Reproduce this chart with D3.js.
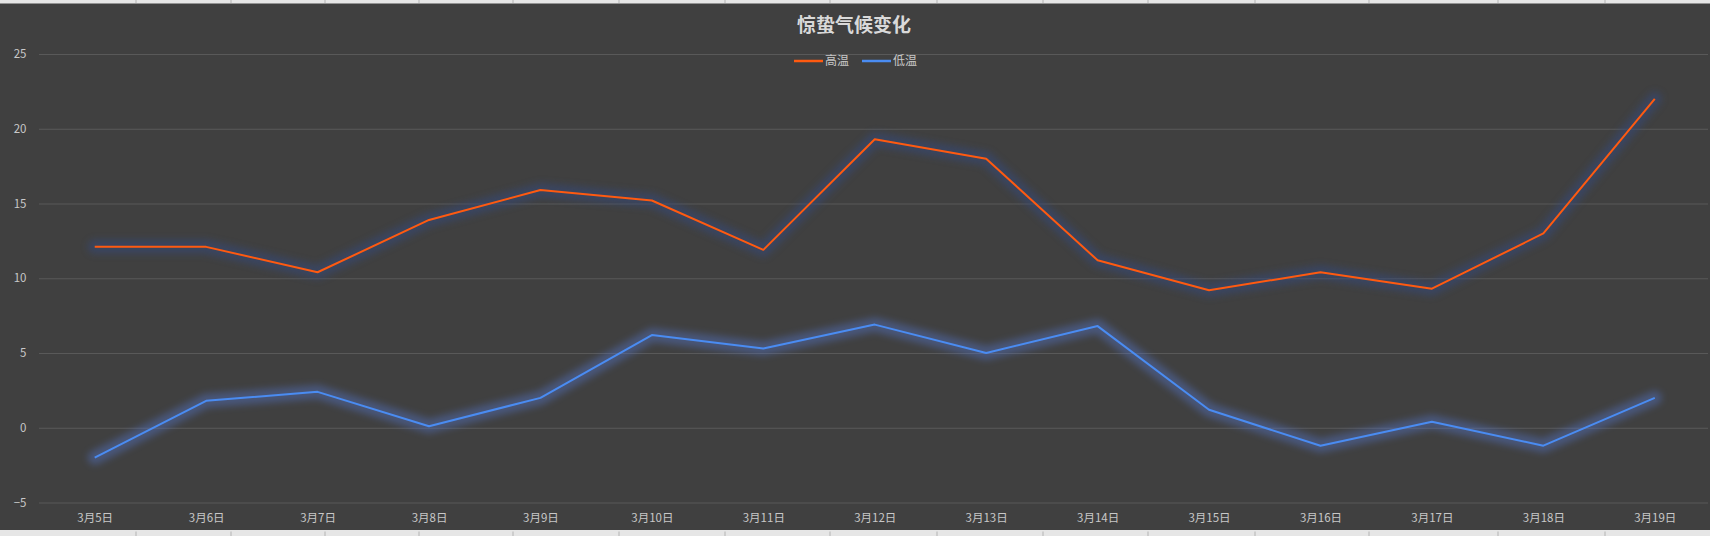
<!DOCTYPE html>
<html>
<head>
  <meta charset="utf-8">
  <script src="https://d3js.org/d3.v7.min.js"></script>
  <style>
    body { margin: 0; background: #404040; }
    text { font-family: "Noto Sans CJK SC", "Noto Sans", sans-serif; }
    .axis text { fill: #c8c8c8; font-size: 11.5px; }
    .axis .domain { display: none; }
    .y-axis line { stroke: #595959; }
    .x-axis line { display: none; }
    .line { fill: none; stroke-width: 2; stroke-linejoin: round; }
    .line.high { stroke: #ff5a10; }
    .line.low { stroke: #4a8cf2; }
    .glow { fill: none; stroke-width: 14; stroke-linejoin: round; stroke-linecap: round; }
    .glow.high { stroke: #34497a; opacity: 0.55; }
    .glow.low { stroke: #5272c2; opacity: 0.45; }
  </style>
</head>
<body>
  <svg id="chart" width="1710" height="536"></svg>
  <script>
    var title = '惊蛰气候变化';
    var days = ['3月5日', '3月6日', '3月7日', '3月8日', '3月9日', '3月10日', '3月11日', '3月12日',
      '3月13日', '3月14日', '3月15日', '3月16日', '3月17日', '3月18日', '3月19日'];
    var high = [12.1, 12.1, 10.4, 13.9, 15.9, 15.2, 11.9, 19.3, 18.0, 11.2, 9.2, 10.4, 9.3, 13.0, 22.0];
    var low = [-2.0, 1.8, 2.4, 0.1, 2.0, 6.2, 5.3, 6.9, 5.0, 6.8, 1.2, -1.2, 0.4, -1.2, 2.0];
    var yTicks = [-5, 0, 5, 10, 15, 20, 25];
    var seriesNames = ['高温', '低温'];

    // excel sheet column borders peeking out above and below the chart
    var sheetCols = [136, 231, 325, 419, 513, 619, 725, 830, 937, 1043, 1148, 1255, 1369, 1498, 1605];

    var chart = d3.select('#chart');
    var W = 1710, H = 536;
    var margin = { top: 54, right: 2, bottom: 33.5, left: 39 };

    chart.append('rect').attr('width', W).attr('height', H).attr('fill', '#404040');
    chart.append('rect').attr('width', W).attr('height', 3.5).attr('fill', '#e6e6e6');
    chart.append('rect').attr('y', 530).attr('width', W).attr('height', 6).attr('fill', '#e6e6e6');
    chart.selectAll('.sheet-top').data(sheetCols).join('line')
      .attr('x1', (d) => d).attr('x2', (d) => d).attr('y1', 0).attr('y2', 3)
      .attr('stroke', '#b4b4b4');
    chart.selectAll('.sheet-bottom').data(sheetCols).join('line')
      .attr('x1', (d) => d).attr('x2', (d) => d).attr('y1', 531.5).attr('y2', 536)
      .attr('stroke', '#b4b4b4');

    var defs = chart.append('defs');
    defs.append('filter').attr('id', 'blur')
      .attr('x', '-10%').attr('y', '-20%').attr('width', '120%').attr('height', '140%')
      .append('feGaussianBlur').attr('stdDeviation', 3.5);

    // category points sit a touch wider than the gridlines
    var x = d3.scalePoint()
      .domain(days)
      .range([margin.left, W + 0.5])
      .padding(0.5);

    var y = d3.scaleLinear()
      .domain([-5, 25])
      .range([H - margin.bottom, margin.top]);

    chart.append('g')
      .attr('class', 'axis y-axis')
      .attr('transform', 'translate(' + margin.left + ', 0)')
      .call(d3.axisLeft(y).tickValues(yTicks).tickSize(-(W - margin.left - margin.right)).tickPadding(12))
      .selectAll('text')
      .attr('x', -12.5);

    chart.append('g')
      .attr('class', 'axis x-axis')
      .attr('transform', 'translate(0, ' + (H - margin.bottom) + ')')
      .call(d3.axisBottom(x).tickSize(0).tickPadding(11));

    var line = d3.line()
      .x((d, i) => x(days[i]))
      .y((d) => y(d));

    [[low, 'low'], [high, 'high']].forEach(([values, cls]) => {
      chart.append('path')
        .datum(values)
        .attr('class', 'glow ' + cls)
        .attr('filter', 'url(#blur)')
        .attr('d', line);
    });
    [[low, 'low'], [high, 'high']].forEach(([values, cls]) => {
      chart.append('path')
        .datum(values)
        .attr('class', 'line ' + cls)
        .attr('d', line);
    });

    chart.append('text')
      .attr('x', W / 2 - 1)
      .attr('y', 32)
      .attr('text-anchor', 'middle')
      .attr('font-size', '19px')
      .attr('font-weight', 'bold')
      .attr('fill', '#d9d9d9')
      .text(title);

    var legend = chart.append('g').attr('transform', 'translate(794, 61)');
    var items = legend.selectAll('g').data(seriesNames).join('g')
      .attr('transform', (d, i) => 'translate(' + (i * 68) + ', 0)');
    items.append('line')
      .attr('x1', 0).attr('x2', 29)
      .attr('stroke-width', 2.5)
      .attr('stroke', (d, i) => i === 0 ? '#ff5a10' : '#4a8cf2');
    items.append('text')
      .attr('x', 31)
      .attr('dy', '0.35em')
      .attr('font-size', '12px')
      .attr('fill', '#c8c8c8')
      .text((d) => d);
  </script>
</body>
</html>
